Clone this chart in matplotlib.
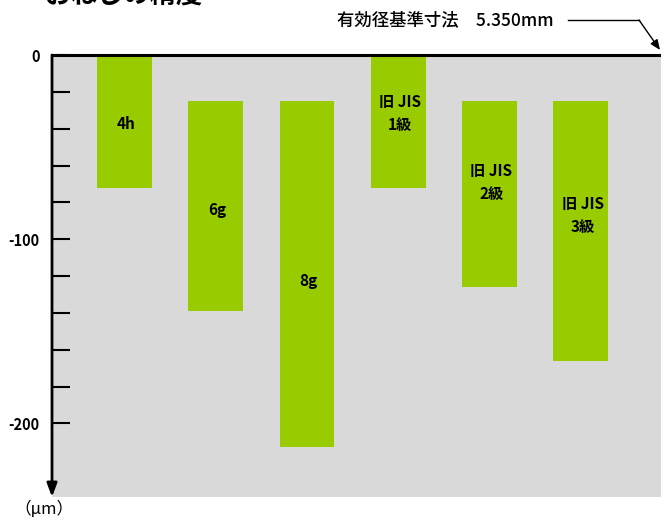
import matplotlib
matplotlib.use("Agg")
import matplotlib.pyplot as plt
from matplotlib.lines import Line2D

plt.rcParams['font.family'] = ['Noto Sans CJK JP', 'DejaVu Sans']
plt.rcParams['axes.unicode_minus'] = False

# thread tolerance classes (um), deviation from basic pitch diameter
classes = ["4h", "6g", "8g", "旧 JIS\n1級", "旧 JIS\n2級", "旧 JIS\n3級"]
upper = [0, -25, -25, 0, -25, -25]
lower = [-72, -139, -213, -72, -126, -166]
y_ticks = [0, -100, -200]
title = "おねじの精度"
note = "有効径基準寸法　5.350mm"
unit = "（μm）"

W, H = 661, 518
fig = plt.figure(figsize=(W / 100, H / 100), dpi=100)
ax = fig.add_axes([52 / W, 1 - 497 / H, 1 - 52 / W, (497 - 55) / H])
ax.set_facecolor("#d9d9d9")

xs = list(range(len(classes)))
heights = [lo - up for up, lo in zip(upper, lower)]
ax.bar(xs, heights, bottom=upper, width=0.6, color="#99cc00", zorder=2)

for x, up, lo, name in zip(xs, upper, lower, classes):
    # two-line labels sit a bit above the middle of the bar
    frac = 0.44 if "\n" in name else 0.52
    ax.text(x + 0.02, up + (lo - up) * frac, name, ha="center", va="center",
            fontsize=11, fontweight="bold", linespacing=1.55, zorder=3)

ax.set_xlim(-0.795, 5.88)
ax.set_ylim(-240, 0)
ax.set_xticks([])
ax.set_yticks(y_ticks)
ax.set_yticks(range(-200, 0, 20), minor=True)
ax.tick_params(axis="y", which="both", direction="in", length=13, width=1.5,
               labelsize=10.5, pad=9)
for lbl in ax.get_yticklabels():
    lbl.set_fontweight("bold")
for s in ["right", "bottom", "left"]:
    ax.spines[s].set_visible(False)
ax.spines["top"].set_linewidth(2.2)
ax.spines["top"].set_color("black")

# vertical axis with arrow pointing down
ax.annotate("", xy=(0, 0.0), xycoords="axes fraction", xytext=(0, 1.0),
            arrowprops=dict(arrowstyle="-|>,head_length=0.8,head_width=0.3",
                            color="black", lw=2, shrinkA=0, shrinkB=0),
            annotation_clip=False)
fig.text(44 / W, 1 - 509 / H, unit, ha="center", va="center", fontsize=12)

# title (cut off at the top edge)
fig.text(45 / W, 1 - 10 / H, title, ha="left", va="bottom", fontsize=19,
         fontweight="bold")

# reference dimension note with leader arrow
fig.text(337 / W, 1 - 20 / H, note, ha="left", va="center", fontsize=12.5,
         fontweight="medium")
fig.add_artist(Line2D([568 / W, 639 / W], [1 - 20 / H, 1 - 20 / H],
                      transform=fig.transFigure, color="black", lw=1))
ax.annotate("", xy=(660 / W, 1 - 50 / H), xycoords="figure fraction",
            xytext=(639 / W, 1 - 20 / H), textcoords="figure fraction",
            arrowprops=dict(arrowstyle="-|>,head_length=0.6,head_width=0.25",
                            color="black", lw=1, shrinkA=0, shrinkB=0),
            annotation_clip=False)

fig.savefig("out.png", dpi=100)
